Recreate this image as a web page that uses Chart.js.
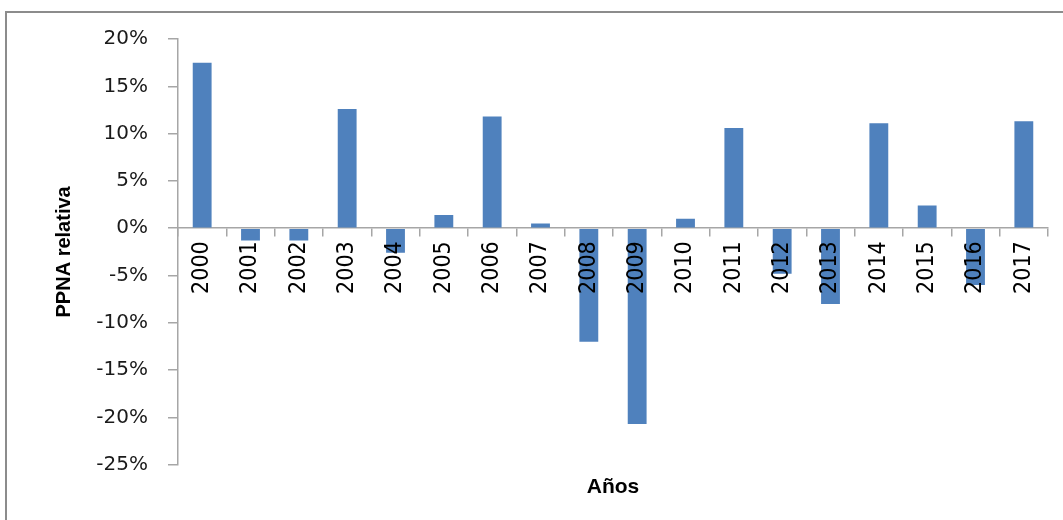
<!DOCTYPE html>
<html lang="es">
  <head>
    <meta charset="UTF-8" />
    <script src="https://cdn.jsdelivr.net/npm/chart.js"></script>
    <title>PPNA relativa</title>
    <style>
      body { margin: 0; background: #fff; }
      #ppnaChart { display: block; }
    </style>
  </head>
  <body>
    <canvas id="ppnaChart" width="1063" height="520"></canvas>

  <script>
    // datos (PPNA relativa, %)
    var years = ['2000', '2001', '2002', '2003', '2004', '2005', '2006', '2007', '2008',
                 '2009', '2010', '2011', '2012', '2013', '2014', '2015', '2016', '2017'];
    var ppnaRel = [17.5, -1.3, -1.3, 12.6, -2.6, 1.4, 11.8, 0.5, -12.0,
                   -20.7, 1.0, 10.6, -4.8, -8.0, 11.1, 2.4, -6.0, 11.3];
    var yMin = -25;
    var yMax = 20;
    var yStep = 5;

    // marco gris alrededor del grafico (como en Excel)
    var framePlugin = {
      id: 'frame',
      beforeDraw: function (chart) {
        var ctx = chart.ctx;
        ctx.save();
        ctx.fillStyle = '#fff';
        ctx.fillRect(0, 0, chart.width, chart.height);
        ctx.strokeStyle = '#8c8c8c';
        ctx.lineWidth = 2;
        ctx.strokeRect(6, 12, 1200, 700);
        ctx.restore();
      }
    };

    var ctx = document.getElementById('ppnaChart').getContext('2d');
    var ppnaChart = new Chart(ctx, {
      type: 'bar',
      data: {
        labels: years,
        datasets: [{
          data: ppnaRel,
          backgroundColor: '#4f81bd',
          barPercentage: 0.39,
          categoryPercentage: 1
        }]
      },
      plugins: [framePlugin],
      options: {
        responsive: false,
        animation: false,
        layout: { padding: { top: 39, right: 15, bottom: 13, left: 0 } },
        plugins: {
          legend: { display: false },
          tooltip: { enabled: false }
        },
        scales: {
          x: {
            position: { y: 0 },
            offset: true,
            grid: {
              display: true,
              drawOnChartArea: false,
              drawTicks: true,
              tickLength: 8,
              offset: true,
              color: '#a6a6a6',
              lineWidth: 1.5
            },
            border: { display: true, color: '#a6a6a6', width: 1.5 },
            ticks: {
              z: 1, // etiquetas por encima de las barras
              autoSkip: false,
              minRotation: 90,
              maxRotation: 90,
              padding: 5,
              color: '#000',
              font: { family: '"DejaVu Sans Condensed", "DejaVu Sans", sans-serif', size: 23 }
            }
          },
          x2: {
            type: 'category',
            position: 'bottom',
            grid: { display: false },
            border: { display: false },
            ticks: { display: false },
            title: {
              display: true,
              text: 'Años',
              color: '#000',
              padding: { top: 2, bottom: 7 },
              font: { family: '"Liberation Sans", Arial, sans-serif', size: 21, weight: 'bold' }
            }
          },
          y: {
            min: yMin,
            max: yMax,
            afterFit: function (scale) { scale.width = 178; },
            grid: {
              display: true,
              drawOnChartArea: false,
              drawTicks: true,
              tickLength: 10,
              color: '#a6a6a6',
              lineWidth: 1.5
            },
            border: { display: true, color: '#a6a6a6', width: 1.5 },
            ticks: {
              stepSize: yStep,
              padding: 20,
              color: '#1a1a1a',
              font: { family: '"DejaVu Sans", sans-serif', size: 20 },
              callback: function (v) { return v + '%'; }
            },
            title: {
              display: true,
              text: 'PPNA relativa',
              color: '#000',
              padding: { top: 52, bottom: 0 },
              font: { family: '"Liberation Sans", Arial, sans-serif', size: 20, weight: 'bold' }
            }
          }
        }
      }
    });
  </script>
  </body>
</html>
